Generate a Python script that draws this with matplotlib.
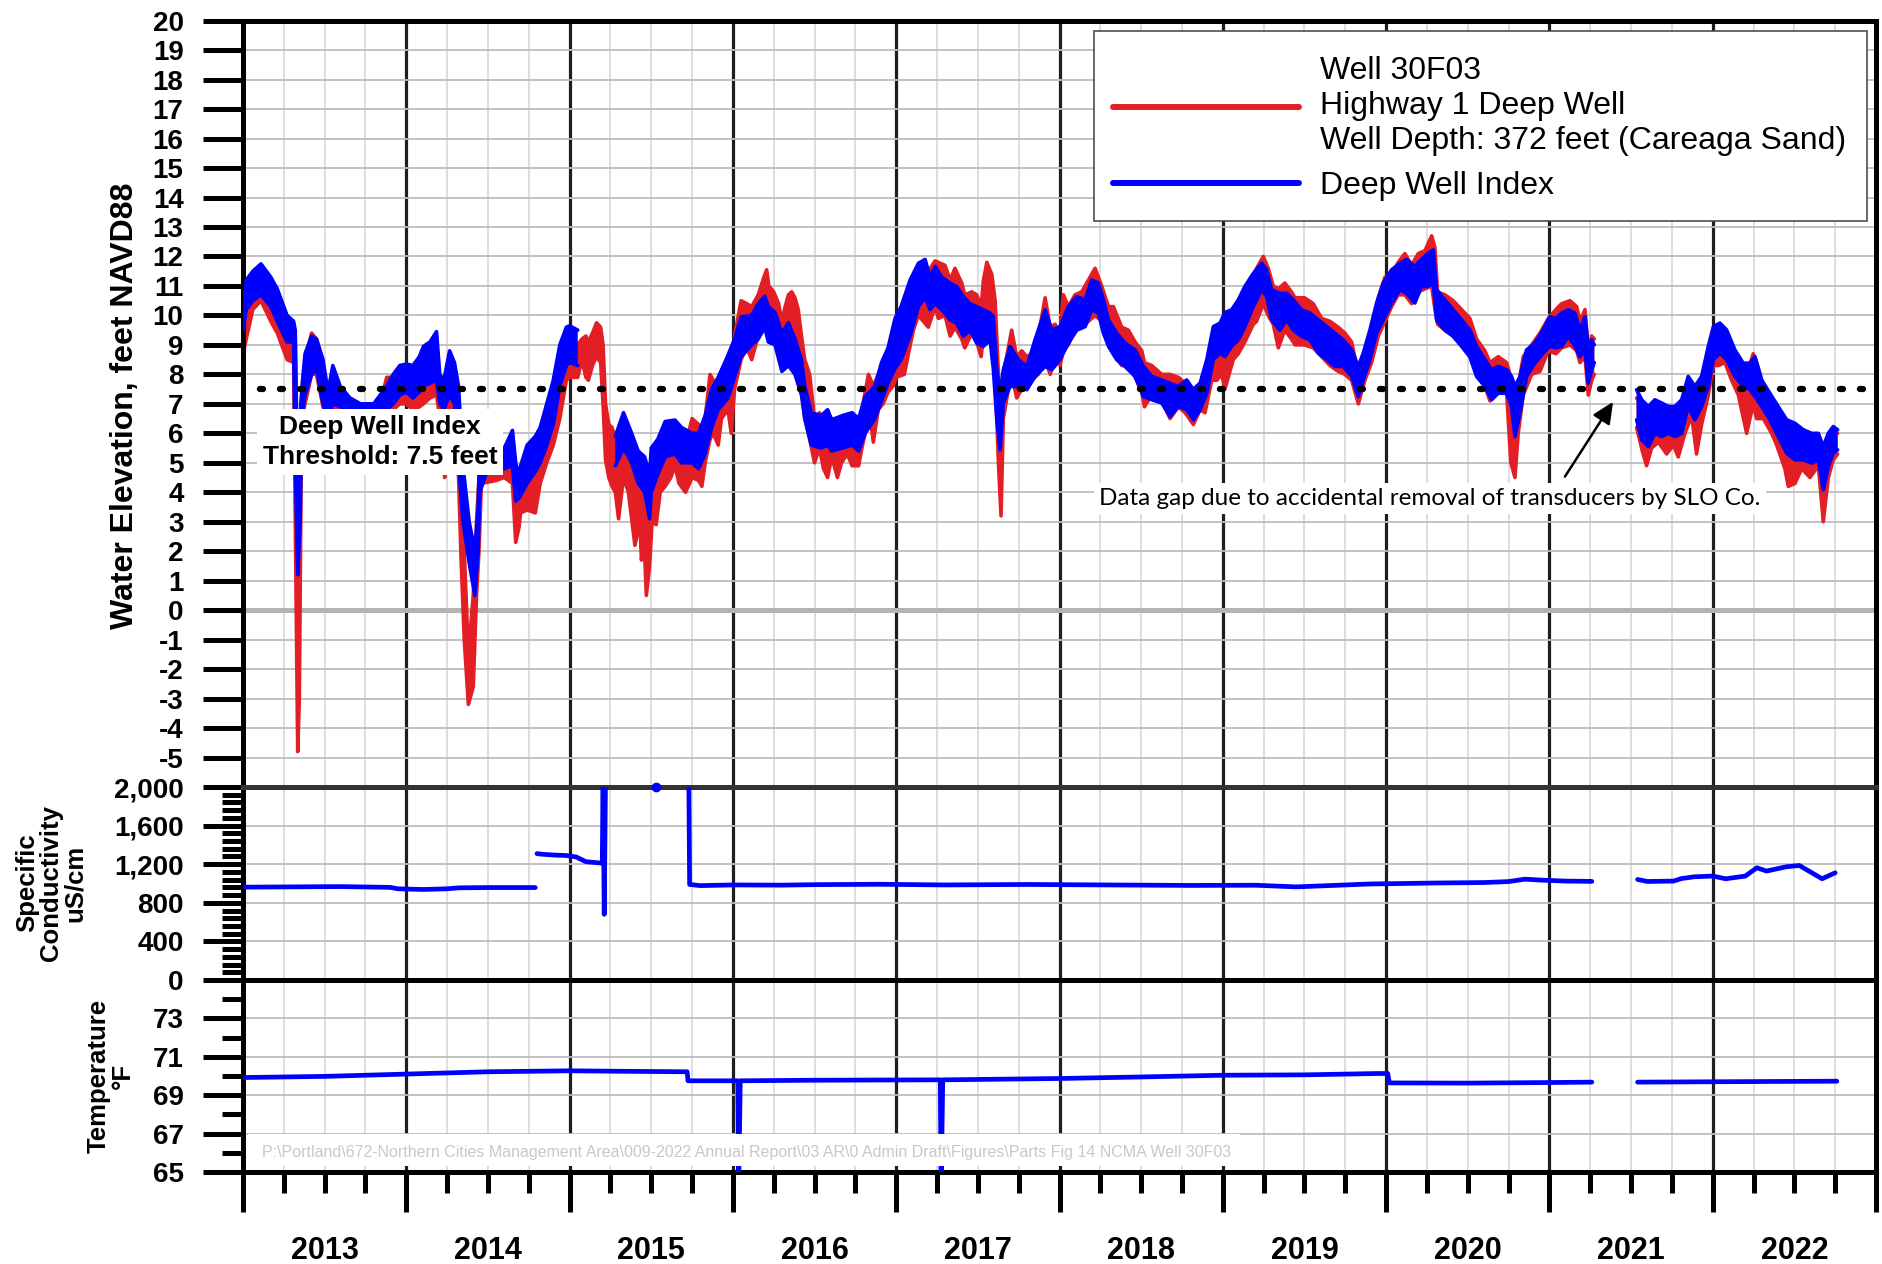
import numpy as np
import matplotlib
matplotlib.use('Agg')
import matplotlib.pyplot as plt
from matplotlib.lines import Line2D
from matplotlib.patches import Rectangle
from matplotlib.ticker import FixedLocator, FuncFormatter, MultipleLocator

plt.rcParams['font.family'] = ['Liberation Sans', 'DejaVu Sans']
plt.rcParams['font.weight'] = 'bold'
plt.rcParams['axes.unicode_minus'] = False

nan = np.nan
RED = '#e31e24'
BLUE = '#0000ff'

# Deep Well Index (blue band): decimal year, low edge, high edge (feet NAVD88)
dwi_t = [2013.00, 2013.02, 2013.06, 2013.11, 2013.17, 2013.21, 2013.27, 2013.31, 2013.32, 2013.335, 2013.35, 2013.36, 2013.38, 2013.42, 2013.45, 2013.49, 2013.52, 2013.55, 2013.595, 2013.655, 2013.72, 2013.80, 2013.84, 2013.88, 2013.92, 2013.96,
         2014.00, 2014.04, 2014.08, 2014.105, 2014.145, 2014.185, 2014.205, 2014.23, 2014.265, 2014.295, 2014.32, 2014.345, 2014.385, 2014.42, 2014.44, 2014.45, 2014.50, 2014.60, 2014.65, 2014.67, 2014.69, 2014.70, 2014.74, 2014.79, 2014.82, 2014.86, 2014.90, 2014.94, 2014.98,
         2015.00, 2015.05, 2015.06, 2015.28, 2015.33, 2015.38, 2015.42, 2015.46, 2015.49, 2015.50, 2015.54, 2015.585, 2015.645, 2015.685, 2015.75, 2015.79, 2015.83, 2015.87, 2015.91, 2015.97,
         2016.01, 2016.05, 2016.115, 2016.155, 2016.195, 2016.217, 2016.258, 2016.30, 2016.34, 2016.38, 2016.42, 2016.44, 2016.48, 2016.54, 2016.58, 2016.605, 2016.67, 2016.73, 2016.77, 2016.81, 2016.87, 2016.91, 2016.95, 2016.993,
         2017.03, 2017.085, 2017.136, 2017.177, 2017.207, 2017.238, 2017.279, 2017.33, 2017.37, 2017.411, 2017.452, 2017.493, 2017.534, 2017.575, 2017.595, 2017.616, 2017.636, 2017.656, 2017.697, 2017.748, 2017.80, 2017.85, 2017.912, 2017.953,
         2018.003, 2018.054, 2018.106, 2018.157, 2018.197, 2018.238, 2018.269, 2018.30, 2018.35, 2018.401, 2018.463, 2018.514, 2018.565, 2018.626, 2018.677, 2018.728, 2018.779, 2018.82, 2018.861, 2018.902, 2018.942, 2018.983,
         2019.013, 2019.054, 2019.095, 2019.135, 2019.187, 2019.238, 2019.268, 2019.299, 2019.35, 2019.391, 2019.432, 2019.482, 2019.534, 2019.585, 2019.636, 2019.686, 2019.738, 2019.789, 2019.83, 2019.86, 2019.901, 2019.942, 2019.983,
         2020.034, 2020.085, 2020.125, 2020.176, 2020.217, 2020.258, 2020.289, 2020.309, 2020.36, 2020.411, 2020.462, 2020.513, 2020.554, 2020.605, 2020.646, 2020.687, 2020.738, 2020.768, 2020.789, 2020.82, 2020.86, 2020.911, 2020.962,
         2021.003, 2021.04, 2021.075, 2021.116, 2021.156, 2021.187, 2021.218, 2021.238, 2021.259, 2021.275, 2021.28, 2021.534, 2021.565, 2021.606, 2021.646, 2021.687, 2021.728, 2021.769, 2021.81, 2021.85, 2021.891, 2021.932, 2021.973,
         2022.004, 2022.044, 2022.085, 2022.136, 2022.187, 2022.228, 2022.259, 2022.30, 2022.35, 2022.401, 2022.453, 2022.504, 2022.555, 2022.606, 2022.647, 2022.677, 2022.708, 2022.738, 2022.765]
dwi_lo = [9.5, 10.2, 10.5, 10.7, 10.3, 9.8, 9.1, 9.1, 5.0, 1.2, 3.0, 6.5, 7.3, 8.0, 8.2, 7.0, 6.5, 7.0, 6.9, 6.7, 6.5, 6.3, 6.5, 6.8, 7.0, 7.3,
          7.4, 7.2, 7.4, 7.6, 7.7, 7.8, 7.0, 6.8, 7.3, 7.0, 5.0, 3.1, 1.6, 0.5, 2.0, 4.0, 4.8, 4.8, 4.9, 3.7, 3.8, 3.9, 4.3, 4.7, 5.0, 5.6, 6.3, 7.6, 8.3,
          8.4, 8.3, nan, 4.9, 5.5, 5.0, 4.3, 4.0, 3.1, 4.0, 4.6, 5.2, 5.3, 5.0, 5.0, 4.8, 5.3, 6.2, 6.8, 7.2,
          7.9, 8.6, 9.0, 9.2, 9.6, 9.1, 9.0, 8.1, 8.3, 8.0, 7.3, 6.5, 5.6, 5.5, 5.6, 5.4, 5.5, 5.6, 5.4, 6.0, 6.5, 7.1, 7.7, 8.2,
          8.5, 9.3, 10.3, 10.6, 10.2, 10.4, 10.2, 9.85, 9.74, 9.29, 9.5, 9.06, 8.95, 9.17, 8.16, 6.46, 5.44, 7.03, 7.59, 7.59, 7.48, 7.93, 8.27, 8.16,
          8.5, 9.06, 9.5, 9.62, 10.19, 10.08, 9.4, 8.95, 8.5, 8.27, 7.93, 7.25, 7.14, 7.03, 6.57, 6.91, 6.8, 6.46, 6.8, 7.36, 8.5, 8.72,
          8.6, 8.95, 9.17, 9.62, 10.3, 10.87, 10.64, 9.85, 9.5, 9.85, 9.5, 9.29, 9.17, 8.72, 8.5, 8.27, 8.27, 7.93, 7.25, 7.81, 8.5, 9.4, 9.85,
          10.42, 10.87, 10.75, 10.42, 10.98, 10.98, 11.1, 9.85, 9.5, 9.29, 8.95, 8.6, 7.93, 7.59, 7.14, 7.36, 7.36, 6.91, 5.89, 6.69, 7.93, 8.38, 8.72,
          8.95, 8.9, 8.95, 9.29, 8.95, 8.6, 8.83, 7.7, 8.16, 8.4, nan, 6.46, 5.78, 5.55, 6.0, 5.89, 6.0, 5.89, 6.0, 6.91, 6.46, 6.91, 7.59,
          8.5, 8.72, 8.5, 7.93, 7.59, 7.48, 7.25, 6.91, 6.46, 5.89, 5.33, 5.1, 5.1, 4.99, 5.1, 4.08, 4.88, 5.33, 5.44]
dwi_hi = [10.2, 11.2, 11.5, 11.75, 11.3, 10.9, 10.0, 9.8, 9.5, 4.0, 6.5, 7.5, 8.7, 9.3, 9.2, 8.5, 7.4, 8.3, 7.6, 7.2, 7.0, 7.0, 7.3, 7.6, 8.0, 8.3,
          8.35, 8.3, 8.6, 8.95, 9.1, 9.45, 8.0, 7.8, 8.8, 8.4, 7.6, 5.0, 3.0, 2.0, 3.5, 5.5, 5.5, 5.5, 6.1, 5.0, 4.5, 4.9, 5.6, 5.9, 6.2, 7.0, 7.8, 9.0, 9.6,
          9.65, 9.5, nan, 5.9, 6.7, 6.0, 5.4, 5.2, 4.6, 5.5, 5.8, 6.4, 6.45, 6.2, 6.0, 6.0, 6.6, 7.5, 7.9, 8.65,
          9.2, 9.95, 10.0, 10.4, 10.65, 10.3, 10.1, 9.4, 9.75, 9.2, 8.5, 7.6, 6.7, 6.6, 6.8, 6.46, 6.6, 6.7, 6.5, 7.25, 7.6, 8.4, 8.9, 9.9,
          10.3, 11.2, 11.77, 11.9, 11.3, 11.66, 11.3, 11.1, 10.98, 10.64, 10.4, 10.3, 10.19, 10.08, 9.96, 8.16, 7.36, 8.16, 8.95, 8.5, 8.27, 9.17, 10.19, 9.51,
          9.62, 10.3, 10.64, 10.53, 11.2, 11.1, 10.53, 9.85, 9.4, 9.06, 8.83, 8.27, 7.93, 7.81, 7.7, 7.59, 7.81, 7.48, 7.7, 8.5, 9.62, 9.74,
          10.1, 10.19, 10.53, 10.98, 11.43, 11.77, 11.55, 10.87, 10.75, 10.75, 10.53, 10.19, 10.08, 9.85, 9.62, 9.4, 9.17, 8.83, 8.27, 8.72, 9.51, 10.42, 11.1,
          11.55, 11.77, 11.9, 11.66, 11.9, 12.11, 12.22, 10.87, 10.53, 10.19, 9.85, 9.51, 8.95, 8.5, 8.16, 8.27, 8.16, 7.93, 7.59, 7.93, 8.83, 9.06, 9.51,
          9.96, 9.9, 10.08, 10.19, 10.08, 9.51, 9.96, 8.95, 9.17, 9.0, nan, 7.48, 7.14, 6.91, 7.14, 7.03, 6.91, 6.91, 7.14, 7.93, 7.59, 7.93, 8.95,
          9.62, 9.74, 9.51, 8.83, 8.38, 8.38, 8.6, 7.81, 7.36, 6.91, 6.46, 6.34, 6.12, 6.0, 6.0, 5.55, 6.0, 6.23, 6.12]

# Well 30F03 (red band)
w_t = [2013.00, 2013.02, 2013.06, 2013.11, 2013.17, 2013.21, 2013.27, 2013.31, 2013.32, 2013.335, 2013.345, 2013.355, 2013.36, 2013.38, 2013.42, 2013.45, 2013.49, 2013.52, 2013.55, 2013.60, 2013.66, 2013.72, 2013.80, 2013.84, 2013.88, 2013.92, 2013.96,
       2014.00, 2014.04, 2014.08, 2014.105, 2014.145, 2014.185, 2014.205, 2014.225, 2014.235, 2014.245, 2014.265, 2014.295, 2014.32, 2014.335, 2014.355, 2014.38, 2014.41, 2014.43, 2014.445, 2014.46, 2014.55, 2014.60, 2014.65, 2014.67, 2014.69, 2014.70, 2014.74, 2014.79, 2014.82, 2014.86, 2014.90, 2014.94, 2014.98,
       2015.00, 2015.05, 2015.075, 2015.10, 2015.115, 2015.14, 2015.165, 2015.19, 2015.205, 2015.22, 2015.24, 2015.26, 2015.28, 2015.30, 2015.33, 2015.36, 2015.40, 2015.43, 2015.44, 2015.455, 2015.47, 2015.49, 2015.505, 2015.53, 2015.555, 2015.585, 2015.62, 2015.645, 2015.67, 2015.71, 2015.75, 2015.79, 2015.81, 2015.83, 2015.86, 2015.88, 2015.91, 2015.93, 2015.97, 2015.99,
       2016.01, 2016.05, 2016.085, 2016.115, 2016.155, 2016.19, 2016.207, 2016.22, 2016.25, 2016.28, 2016.30, 2016.32, 2016.34, 2016.36, 2016.38, 2016.40, 2016.42, 2016.44, 2016.47, 2016.50, 2016.53, 2016.555, 2016.58, 2016.605, 2016.64, 2016.665, 2016.70, 2016.73, 2016.77, 2016.79, 2016.81, 2016.83, 2016.86, 2016.89, 2016.92, 2016.95, 2016.98,
       2017.00, 2017.05, 2017.075, 2017.105, 2017.136, 2017.197, 2017.238, 2017.258, 2017.299, 2017.33, 2017.36, 2017.401, 2017.42, 2017.463, 2017.493, 2017.52, 2017.534, 2017.555, 2017.585, 2017.606, 2017.626, 2017.642, 2017.656, 2017.687, 2017.707, 2017.738, 2017.769, 2017.80, 2017.83, 2017.87, 2017.912, 2017.943, 2017.973,
       2018.003, 2018.024, 2018.054, 2018.095, 2018.136, 2018.177, 2018.218, 2018.258, 2018.30, 2018.33, 2018.381, 2018.422, 2018.463, 2018.504, 2018.52, 2018.565, 2018.626, 2018.677, 2018.728, 2018.769, 2018.82, 2018.861, 2018.891, 2018.932, 2018.963, 2018.993,
       2019.013, 2019.064, 2019.095, 2019.135, 2019.187, 2019.207, 2019.248, 2019.278, 2019.309, 2019.34, 2019.38, 2019.42, 2019.442, 2019.50, 2019.554, 2019.605, 2019.656, 2019.707, 2019.748, 2019.789, 2019.83, 2019.87, 2019.911, 2019.952, 2019.993,
       2020.034, 2020.074, 2020.115, 2020.156, 2020.197, 2020.238, 2020.279, 2020.299, 2020.315, 2020.36, 2020.411, 2020.462, 2020.513, 2020.554, 2020.605, 2020.636, 2020.687, 2020.738, 2020.764, 2020.789, 2020.809, 2020.84, 2020.891, 2020.942, 2020.993,
       2021.04, 2021.075, 2021.126, 2021.167, 2021.187, 2021.218, 2021.238, 2021.259, 2021.275, 2021.28, 2021.534, 2021.569, 2021.595, 2021.626, 2021.667, 2021.718, 2021.759, 2021.789, 2021.83, 2021.871, 2021.901, 2021.932, 2021.973,
       2022.004, 2022.034, 2022.075, 2022.116, 2022.157, 2022.208, 2022.248, 2022.269, 2022.31, 2022.361, 2022.392, 2022.442, 2022.463, 2022.504, 2022.545, 2022.596, 2022.647, 2022.677, 2022.708, 2022.738, 2022.765]
w_lo = [8.7, 9.2, 10.2, 10.5, 9.8, 9.4, 8.5, 8.4, 3.0, -4.8, -3.0, 4.0, 6.5, 7.0, 8.0, 8.0, 6.9, 6.4, 6.8, 6.7, 6.5, 6.3, 6.1, 6.3, 6.8, 6.8, 7.0,
        7.0, 6.8, 6.9, 7.0, 7.2, 7.3, 6.5, 5.5, 4.5, 6.0, 6.8, 6.5, 4.5, 1.8, -1.0, -3.2, -2.6, 0.5, 2.0, 4.3, 4.4, 4.5, 4.3, 2.3, 2.8, 3.3, 3.4, 3.3, 4.3, 5.0, 5.6, 6.5, 7.8,
        7.9, 7.9, 8.5, 7.9, 7.8, 8.3, 8.6, 8.4, 7.0, 5.1, 4.5, 4.2, 4.0, 3.1, 4.5, 4.0, 2.2, 3.0, 1.7, 2.5, 0.5, 1.5, 3.0, 2.9, 4.0, 4.2, 4.5, 4.9, 4.3, 4.0, 4.5, 4.4, 4.2, 5.0, 5.8, 6.0, 5.6, 6.5, 6.8, 6.0,
        7.5, 8.5, 8.9, 8.5, 9.3, 9.5, 9.8, 9.5, 9.1, 8.8, 8.2, 8.6, 9.0, 8.8, 8.6, 8.2, 7.5, 6.5, 5.8, 5.0, 5.5, 4.8, 4.5, 5.2, 4.5, 5.0, 5.3, 4.9, 4.9, 5.5, 6.0, 7.0, 5.7, 6.8, 7.0, 7.4, 7.6,
        7.9, 8.0, 8.7, 9.5, 10.0, 9.6, 10.3, 9.9, 10.0, 9.3, 9.6, 9.2, 8.9, 9.4, 9.1, 8.6, 9.3, 9.5, 9.3, 8.0, 5.0, 3.2, 6.5, 7.5, 8.0, 7.2, 7.5, 7.6, 7.8, 8.0, 8.5, 8.0, 8.6,
        8.3, 8.8, 9.0, 9.5, 9.6, 9.8, 10.0, 9.8, 9.1, 8.7, 8.3, 8.3, 7.9, 7.4, 6.9, 7.3, 7.1, 6.5, 6.9, 6.7, 6.3, 6.8, 6.7, 7.8, 7.8, 8.0,
        7.5, 8.5, 8.7, 9.1, 9.7, 9.8, 10.4, 10.0, 9.7, 8.9, 9.5, 9.2, 9.0, 9.0, 8.9, 8.6, 8.3, 8.1, 8.0, 7.8, 7.0, 7.8, 8.4, 9.3, 9.8,
        10.3, 10.7, 10.7, 10.4, 10.8, 10.9, 11.0, 10.2, 9.7, 9.5, 9.3, 9.0, 8.6, 8.0, 7.6, 7.1, 7.4, 7.4, 5.0, 4.5, 6.0, 7.3, 8.0, 8.1, 8.8,
        8.7, 8.9, 9.0, 8.8, 8.4, 8.6, 7.3, 7.8, 8.0, nan, 6.2, 5.4, 4.9, 5.5, 5.7, 5.3, 5.6, 5.2, 6.0, 6.6, 5.3, 6.3, 7.3,
        8.3, 8.3, 8.4, 7.8, 7.3, 6.0, 7.0, 6.5, 6.5, 6.0, 5.6, 4.8, 4.2, 4.3, 4.8, 4.5, 4.9, 3.0, 4.5, 5.1, 5.3]
w_hi = [9.5, 10.0, 10.9, 10.9, 10.6, 10.2, 9.5, 9.3, 9.0, 1.0, 3.0, 7.0, 7.3, 8.5, 9.4, 9.2, 8.4, 7.3, 8.0, 7.4, 7.0, 6.8, 6.8, 7.0, 7.9, 7.9, 7.8,
        8.0, 7.8, 7.8, 8.0, 8.4, 8.6, 7.5, 7.2, 6.5, 7.3, 8.0, 7.6, 6.5, 4.5, 2.0, -1.5, 0.5, 3.0, 4.5, 5.0, 5.0, 5.2, 5.5, 4.5, 4.0, 4.5, 5.0, 5.0, 5.5, 6.5, 7.2, 8.4, 9.2,
        9.3, 9.0, 9.2, 9.3, 9.1, 9.4, 9.75, 9.6, 9.0, 7.0, 6.3, 6.2, 5.8, 5.5, 6.3, 5.8, 4.5, 4.8, 3.8, 4.3, 2.5, 4.0, 5.0, 5.0, 5.5, 6.0, 6.2, 6.0, 5.8, 5.6, 6.5, 6.3, 6.0, 6.5, 8.0, 7.8, 7.3, 7.6, 8.5, 8.0,
        9.3, 10.5, 10.4, 10.3, 10.7, 11.3, 11.55, 11.0, 10.8, 10.4, 9.8, 10.3, 10.7, 10.8, 10.6, 10.2, 9.3, 8.5, 8.0, 6.5, 6.7, 6.4, 6.3, 6.5, 6.3, 6.4, 6.5, 6.4, 6.3, 6.8, 7.4, 8.0, 7.6, 8.0, 8.4, 8.8, 9.2,
        9.0, 9.5, 10.3, 10.8, 11.6, 11.5, 11.85, 11.8, 11.7, 11.2, 11.6, 11.1, 10.7, 10.8, 10.7, 10.3, 11.2, 11.8, 11.4, 10.5, 8.0, 6.5, 8.0, 8.9, 9.5, 8.6, 8.8, 8.6, 8.7, 9.3, 10.6, 9.6, 9.7,
        9.4, 10.7, 10.3, 10.7, 10.8, 11.2, 11.6, 11.0, 10.3, 10.3, 9.6, 9.5, 9.1, 8.8, 8.4, 8.3, 8.0, 8.0, 7.9, 7.7, 7.5, 7.7, 8.0, 9.2, 9.4, 9.5,
        9.5, 9.8, 10.0, 10.7, 11.3, 11.6, 12.0, 11.6, 11.0, 10.9, 11.1, 10.8, 10.6, 10.6, 10.4, 9.9, 9.8, 9.6, 9.4, 9.1, 8.0, 8.6, 9.6, 10.6, 11.3,
        11.4, 11.8, 12.1, 11.7, 12.1, 12.2, 12.7, 12.3, 10.8, 10.7, 10.5, 10.2, 9.9, 9.2, 8.8, 8.4, 8.6, 8.4, 7.9, 6.8, 7.6, 8.6, 9.0, 9.4, 9.9,
        10.2, 10.4, 10.5, 10.3, 9.8, 10.2, 8.8, 9.3, 9.2, nan, 7.2, 6.9, 6.6, 6.8, 7.0, 6.9, 6.8, 6.8, 7.4, 7.6, 7.1, 7.5, 8.8,
        9.4, 9.5, 9.4, 8.8, 8.4, 8.0, 8.7, 8.4, 7.6, 7.1, 6.8, 6.4, 6.2, 6.0, 6.0, 5.9, 5.9, 5.2, 5.8, 6.0, 6.0]

# Specific conductivity, uS/cm
cond_t = [2013.00, 2013.30, 2013.60, 2013.90, 2013.95, 2014.10, 2014.25, 2014.32, 2014.50, 2014.79, 2014.795,
          2014.80, 2014.82, 2014.90, 2014.98, 2015.04, 2015.10, 2015.19, 2015.20, 2015.205, 2015.212, 2015.22, 2015.23,
          2015.73, 2015.735, 2015.80, 2016.00, 2016.30, 2016.50, 2016.90, 2017.30, 2017.80, 2018.30, 2018.80, 2019.20,
          2019.45, 2019.60, 2019.90, 2020.30, 2020.60, 2020.75, 2020.85, 2020.95, 2021.10, 2021.26, 2021.30,
          2021.54, 2021.60, 2021.76, 2021.81, 2021.89, 2022.00, 2022.08, 2022.20, 2022.27, 2022.33, 2022.45, 2022.53, 2022.67, 2022.75]
cond_v = [962, 965, 968, 960, 945, 938, 945, 955, 958, 958, nan,
          1310, 1305, 1295, 1290, 1275, 1226, 1212, 1210, 2100, 680, 2100, nan,
          2100, 990, 978, 985, 983, 988, 992, 985, 990, 985, 980, 982,
          965, 975, 995, 1005, 1010, 1020, 1045, 1035, 1025, 1022, nan,
          1042, 1021, 1025, 1052, 1070, 1077, 1049, 1077, 1163, 1129, 1173, 1187, 1049, 1111]
cond_dot_t = [2015.53]
cond_dot_v = [2000]

# Temperature, deg F
temp_t = [2013.00, 2013.50, 2014.00, 2014.50, 2015.00, 2015.40, 2015.72, 2015.725, 2016.03, 2016.035, 2016.045,
          2016.50, 2017.27, 2017.275, 2017.285, 2017.50, 2018.00, 2018.50, 2019.00, 2019.50, 2019.95, 2020.01,
          2020.02, 2020.50, 2021.00, 2021.26, 2021.30, 2021.54, 2022.00, 2022.76]
temp_v = [69.92, 69.98, 70.10, 70.22, 70.27, 70.24, 70.22, 69.75, 69.75, 64.0, 69.75,
          69.78, 69.80, 64.0, 69.80, 69.82, 69.87, 69.95, 70.04, 70.06, 70.13, 70.13,
          69.64, 69.63, 69.66, 69.68, nan, 69.68, 69.70, 69.73]

year_labels = ['2013', '2014', '2015', '2016', '2017', '2018', '2019', '2020', '2021', '2022']
threshold = 7.5

W, H = 1883, 1264
fig = plt.figure(figsize=(W / 100, H / 100), dpi=100)

def fx(px):
    return px / W

def fy(py):
    return 1 - py / H

L, R = 243, 1876
ax1 = fig.add_axes([fx(L), fy(787), (R - L) / W, (787 - 20.7) / H])
ax2 = fig.add_axes([fx(L), fy(980), (R - L) / W, (980 - 787) / H], sharex=ax1)
ax3 = fig.add_axes([fx(L), fy(1172), (R - L) / W, (1172 - 980) / H], sharex=ax1)

edges = [2013 + i for i in range(11)]
quarters = [y + q for y in range(2013, 2023) for q in (0.25, 0.5, 0.75)]

for ax in (ax1, ax2, ax3):
    ax.set_axisbelow(True)
    for s in ax.spines.values():
        s.set_linewidth(3.6)
        s.set_color('black')
    ax.xaxis.set_major_locator(FixedLocator(edges))
    ax.xaxis.set_minor_locator(FixedLocator(quarters))
    ax.grid(axis='x', which='major', color='#1e1e1e', lw=2.3)
    ax.grid(axis='x', which='minor', color='#d4d4d4', lw=1.1)
    ax.grid(axis='y', which='major', color='#bdbdbd', lw=1.3)
    ax.tick_params(axis='y', which='major', direction='out', length=28.8, width=3.6, pad=14, labelsize=20)
    ax.tick_params(axis='y', which='minor', direction='out', length=15, width=3.6)
    ax.tick_params(axis='x', which='both', length=0, labelbottom=False)

ax3.tick_params(axis='x', which='major', direction='out', length=28.8, width=3.6)
ax3.tick_params(axis='x', which='minor', direction='out', length=15, width=3.6)
ax1.spines['bottom'].set_color('#333333')
ax2.spines['top'].set_color('#333333')

ax1.set_xlim(2013, 2023)
ax1.set_ylim(-6, 20)
ax1.yaxis.set_major_locator(FixedLocator(list(range(-5, 21))))
ax2.set_ylim(0, 2000)
ax2.yaxis.set_major_locator(FixedLocator([0, 400, 800, 1200, 1600, 2000]))
ax2.yaxis.set_minor_locator(MultipleLocator(80))
ax2.yaxis.set_major_formatter(FuncFormatter(lambda v, p: f'{v:,.0f}'))
ax3.set_ylim(65, 75)
ax3.yaxis.set_major_locator(FixedLocator([65, 67, 69, 71, 73]))
ax3.yaxis.set_minor_locator(FixedLocator([66, 68, 70, 72, 74]))

# water level panel
ax1.axhline(0, color='#b3b3b3', lw=3.6, zorder=1)

def band(ax, t, lo, hi, color, z):
    ax.fill_between(t, lo, hi, color=color, lw=0, zorder=z)
    ax.plot(t, lo, color=color, lw=2.6, solid_joinstyle='round', solid_capstyle='round', zorder=z)
    ax.plot(t, hi, color=color, lw=2.6, solid_joinstyle='round', solid_capstyle='round', zorder=z)

band(ax1, w_t, w_lo, w_hi, RED, 2)
band(ax1, dwi_t, dwi_lo, dwi_hi, BLUE, 3)

ax1.axhline(threshold, color='black', lw=4.5, linestyle=(0.5, (0.5, 2.7)),
            dash_capstyle='round', zorder=4)

ax1.text(2013.84, 5.71, 'Deep Well Index\nThreshold: 7.5 feet', ha='center', va='center',
         fontsize=19, fontweight='bold', linespacing=1.3, zorder=6,
         bbox=dict(boxstyle='square,pad=0.22', fc='white', ec='none'))

ax1.text(2020.269, 3.78, 'Data gap due to accidental removal of transducers by SLO Co.',
         ha='center', va='center', fontsize=17.5, family=['Lato', 'DejaVu Sans'], fontweight='normal',
         zorder=6, bbox=dict(boxstyle='square,pad=0.2', fc='white', ec='none'))
ax1.annotate('', xy=(2021.39, 7.07), xytext=(2021.095, 4.53), zorder=6,
             arrowprops=dict(arrowstyle='-|>,head_length=0.65,head_width=0.3', color='black',
                             lw=1.8, shrinkA=0, shrinkB=0, mutation_scale=20))

# legend: frame drawn as a plain rectangle, entries placed inside it
ax1.add_patch(Rectangle((fx(1094), fy(221)), (1867 - 1094) / W, (221 - 31) / H,
                        transform=fig.transFigure, fc='white', ec='#404040', lw=1.1,
                        zorder=9, clip_on=False))
h_red = Line2D([], [], color=RED, lw=4.3, solid_capstyle='round')
h_blue = Line2D([], [], color=BLUE, lw=4.3, solid_capstyle='round')
leg = ax1.legend([h_red, h_blue],
                 ['Well 30F03\nHighway 1 Deep Well\nWell Depth: 372 feet (Careaga Sand)', 'Deep Well Index'],
                 loc='upper left', bbox_to_anchor=(fx(1094), fy(37)), bbox_transform=fig.transFigure,
                 borderaxespad=0, frameon=False,
                 prop={'family': 'Liberation Sans', 'weight': 'normal', 'size': 23},
                 handlelength=5.83, handletextpad=0.64, borderpad=0.6, labelspacing=0.47)
for t in leg.get_texts():
    t.set_linespacing(1.22)
leg.set_zorder(10)

# conductivity panel
ax2.plot(cond_t, cond_v, color=BLUE, lw=3.4, solid_capstyle='round', solid_joinstyle='round', zorder=3)
ax2.plot(cond_dot_t, cond_dot_v, 'o', color=BLUE, ms=6, clip_on=False, zorder=5)

# temperature panel
ax3.plot(temp_t, temp_v, color=BLUE, lw=3.4, solid_capstyle='round', solid_joinstyle='round', zorder=3)

ax3.add_patch(Rectangle((fx(248), fy(1166)), (1240 - 248) / W, (1166 - 1134) / H,
                        transform=fig.transFigure, fc='white', ec='none', zorder=6, clip_on=False))
ax3.text(fx(262), fy(1152), 'P:\\Portland\\672-Northern Cities Management Area\\009-2022 Annual Report\\03 AR\\0 Admin Draft\\Figures\\Parts Fig 14 NCMA Well 30F03',
         transform=fig.transFigure, fontsize=11.5, color='#c8c8c8', fontweight='normal',
         ha='left', va='center', zorder=7)

for i, lbl in enumerate(year_labels):
    ax3.text(2013.5 + i, -0.41, lbl, transform=ax3.get_xaxis_transform(), ha='center', va='center',
             fontsize=22, fontweight='bold')

fig.text(fx(125), fy(406), 'Water Elevation, feet NAVD88', rotation=90, ha='center', va='center',
         fontsize=23, fontweight='bold')
fig.text(fx(51), fy(883), 'Specific\nConductivity\nuS/cm', rotation=90, ha='center', va='center',
         fontsize=18.5, fontweight='bold', linespacing=1.0, multialignment='center')
fig.text(fx(111), fy(1076), 'Temperature\n°F', rotation=90, ha='center', va='center',
         fontsize=18.5, fontweight='bold', linespacing=1.0, multialignment='center')

fig.savefig('out.png', dpi=100)
